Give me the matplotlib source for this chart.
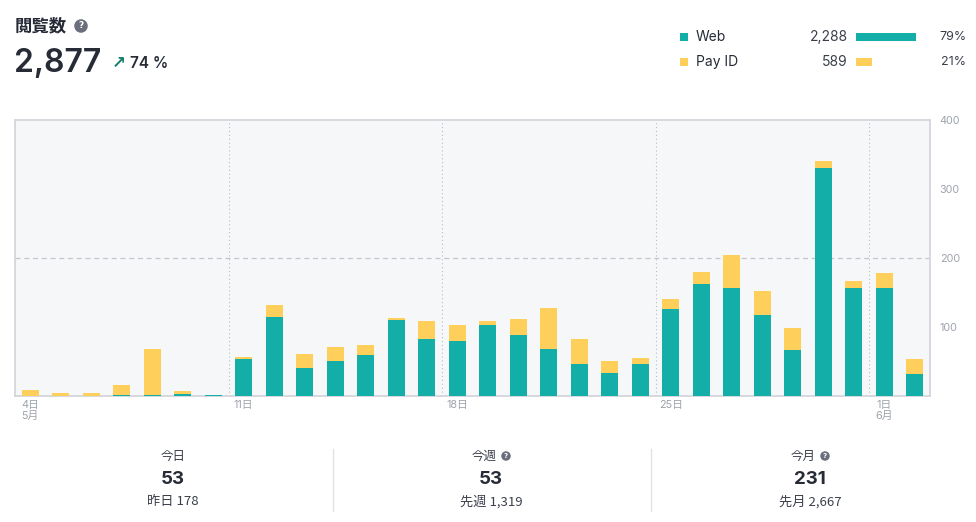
import matplotlib
matplotlib.use("Agg")
import matplotlib.pyplot as plt
from matplotlib.patches import Rectangle
from matplotlib.lines import Line2D

plt.rcParams['font.family'] = ['Inter', 'Noto Sans CJK JP', 'DejaVu Sans']

# ---- data ----
days = list(range(30))  # May 4 .. Jun 2
web = [0, 0, 0, 2, 2, 3, 1, 53, 115, 41, 51, 59, 110, 82, 80, 103, 88, 68, 46, 34,
       47, 126, 162, 156, 117, 67, 331, 156, 156, 32]
payid = [8, 4, 5, 14, 66, 4, 1, 4, 17, 20, 20, 15, 3, 27, 23, 6, 23, 60, 36, 16,
         8, 14, 18, 48, 35, 31, 9, 11, 22, 21]
tick_pos = [0, 7, 14, 21, 28]
tick_labels = ["4日\n5月", "11日", "18日", "25日", "1日\n6月"]
week_lines = [6.5, 13.5, 20.5, 27.5]
y_ticks = [100, 200, 300, 400]

series_names = ["Web", "Pay ID"]
series_totals = ["2,288", "589"]
series_share = [79, 21]
series_pct = ["79%", "21%"]

stat_titles = ["今日", "今週", "今月"]
stat_values = ["53", "53", "231"]
stat_prev = ["昨日 178", "先週 1,319", "先月 2,667"]
stat_help = [False, True, True]

TEAL = "#12aea7"
YELLOW = "#ffcf5b"
DARK = "#262b36"
GRAY = "#9ea3ab"

W, H = 976, 522
fig = plt.figure(figsize=(W / 100, H / 100), dpi=100)

def fx(x):
    return x / W

def fy(y):
    return 1 - y / H

# ---- chart ----
ax = fig.add_axes([fx(15), fy(396), fx(930) - fx(15), fy(120) - fy(396)])
ax.set_facecolor("#f6f7f9")
ax.bar(days, web, width=0.56, color=TEAL, zorder=3)
ax.bar(days, payid, bottom=web, width=0.56, color=YELLOW, zorder=3)
ax.set_xlim(-0.5, 29.5)
ax.set_ylim(0, 400)
for x in week_lines:
    ax.axvline(x, color="#b9bdc4", linestyle=(0, (1, 2.5)), linewidth=0.8, zorder=1)
ax.axhline(200, color="#c3c6cc", linestyle=(0, (4, 3)), linewidth=0.9, zorder=1)
for s in ax.spines.values():
    s.set_color("#d3d6db")
    s.set_linewidth(1.3)
ax.yaxis.tick_right()
ax.set_yticks(y_ticks)
ax.set_yticklabels([str(v) for v in y_ticks])
ax.set_xticks(tick_pos)
ax.set_xticklabels(tick_labels, linespacing=1.15, va="top")
ax.tick_params(axis="both", length=0, labelsize=7.8, labelcolor=GRAY)
ax.tick_params(axis="y", pad=7)
ax.tick_params(axis="x", pad=3)

# ---- header ----
fig.text(fx(15), fy(26), "閲覧数", fontsize=12.5, fontweight="bold", color=DARK,
         va="center", ha="left", family=['Noto Sans CJK JP', 'DejaVu Sans'])

def help_icon(x, y, size=6.5):
    fig.text(fx(x), fy(y), "?", fontsize=size, fontweight="bold", color="white",
             ha="center", va="center", family=['DejaVu Sans'],
             bbox=dict(boxstyle="circle,pad=0.25", fc="#6b6f7b", ec="none"))

help_icon(81, 26, 6.5)
fig.text(fx(14), fy(63), "2,877", fontsize=23, color=DARK, va="center", ha="left",
         fontweight="semibold")
fig.text(fx(112), fy(63), "↗", fontsize=12, fontweight="bold", color="#16806f",
         va="center", ha="left", family=['DejaVu Sans'])
fig.text(fx(130), fy(63), "74 %", fontsize=11, color=DARK, va="center", ha="left",
         fontweight="semibold")

# ---- legend ----
colors = [TEAL, YELLOW]
rows_y = [37, 62]
for name, tot, share, pct, c, y in zip(series_names, series_totals, series_share,
                                         series_pct, colors, rows_y):
    fig.patches.append(Rectangle((fx(680), fy(y + 4)), fx(8), fy(y - 4) - fy(y + 4),
                                 transform=fig.transFigure, fc=c, ec="none"))
    fig.text(fx(696), fy(y), name, fontsize=10, color=DARK, va="center", ha="left")
    fig.text(fx(848), fy(y), tot, fontsize=10, color="#3a3f4a", va="center", ha="right")
    fig.patches.append(Rectangle((fx(856), fy(y + 4)), fx(60) * share / 79,
                                 fy(y - 4) - fy(y + 4),
                                 transform=fig.transFigure, fc=c, ec="none"))
    fig.text(fx(966), fy(y), pct, fontsize=9, color="#3a3f4a", va="center", ha="right")

# ---- bottom stats ----
centers = [173, 491, 810]
for cx, t, v, p, hlp in zip(centers, stat_titles, stat_values, stat_prev, stat_help):
    tx = cx - (7 if hlp else 0)
    fig.text(fx(tx), fy(456), t, fontsize=9, color="#3a3f4a", ha="center", va="center",
             family=['Noto Sans CJK JP', 'DejaVu Sans'])
    if hlp:
        help_icon(cx + 15, 456, 5)
    fig.text(fx(cx), fy(480), v, fontsize=13.5, fontweight="bold", color=DARK,
             ha="center", va="center")
    fig.text(fx(cx), fy(502), p, fontsize=9.5, color="#3a3f4a", ha="center", va="center",
             family=['Noto Sans CJK JP', 'DejaVu Sans'])

for sx in [333, 651]:
    fig.lines.append(Line2D([fx(sx), fx(sx)], [fy(449), fy(511)],
                            transform=fig.transFigure, color="#e1e3e7", linewidth=1))

fig.savefig("out.png", dpi=100)
